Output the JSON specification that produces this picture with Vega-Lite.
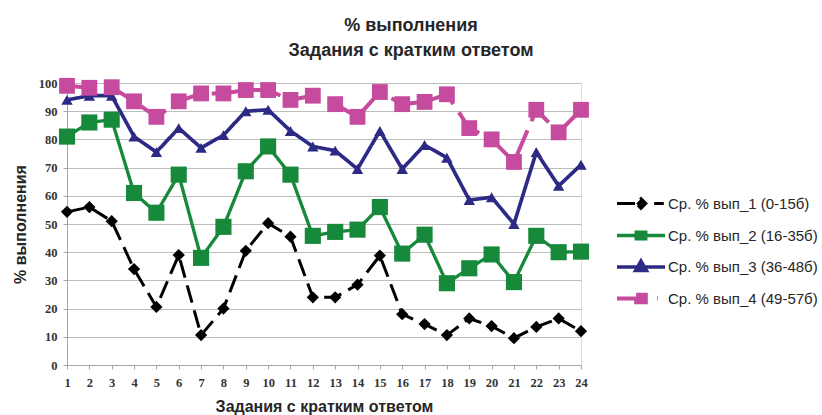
{
  "$schema": "https://vega.github.io/schema/vega-lite/v6.json",
  "width": 514,
  "height": 282,
  "autosize": {"type": "none"},
  "padding": {"left": 67, "top": 83, "right": 241, "bottom": 50},
  "background": "white",
  "title": {
    "text": ["% выполнения", "Задания с кратким ответом"],
    "anchor": "middle",
    "dx": 87,
    "offset": 17,
    "fontSize": 18,
    "font": "Liberation Sans",
    "fontWeight": "bold",
    "lineHeight": 25,
    "color": "#262626"
  },
  "datasets": {
    "wide": [
      {"x": 1, "a": 54.3, "b": 81, "c": 94, "d": 99},
      {"x": 2, "a": 56, "b": 86, "c": 95.5, "d": 98.3},
      {"x": 3, "a": 51, "b": 87, "c": 95.5, "d": 98.5},
      {"x": 4, "a": 34, "b": 61, "c": 81, "d": 93.5},
      {"x": 5, "a": 20.6, "b": 54, "c": 75.5, "d": 88},
      {"x": 6, "a": 39, "b": 67.5, "c": 84, "d": 93.5},
      {"x": 7, "a": 10.6, "b": 38, "c": 77, "d": 96.3},
      {"x": 8, "a": 20, "b": 49, "c": 81.5, "d": 96.3},
      {"x": 9, "a": 40.5, "b": 68.7, "c": 90, "d": 97.5},
      {"x": 10, "a": 50.3, "b": 77.5, "c": 90.5, "d": 97.5},
      {"x": 11, "a": 45.5, "b": 67.5, "c": 83, "d": 94},
      {"x": 12, "a": 24, "b": 45.8, "c": 77.5, "d": 95.5},
      {"x": 13, "a": 24, "b": 47.2, "c": 76, "d": 92.5},
      {"x": 14, "a": 28.5, "b": 48, "c": 69.5, "d": 88},
      {"x": 15, "a": 38.8, "b": 56, "c": 83, "d": 96.8},
      {"x": 16, "a": 18, "b": 39.5, "c": 69.5, "d": 92.5},
      {"x": 17, "a": 14.5, "b": 46.2, "c": 78, "d": 93.3},
      {"x": 18, "a": 10.6, "b": 29, "c": 73.5, "d": 96},
      {"x": 19, "a": 16.5, "b": 34.3, "c": 58.5, "d": 84},
      {"x": 20, "a": 13.8, "b": 39.2, "c": 59.5, "d": 80},
      {"x": 21, "a": 9.5, "b": 29.4, "c": 50, "d": 72},
      {"x": 22, "a": 13.5, "b": 45.8, "c": 75.5, "d": 90.5},
      {"x": 23, "a": 16.5, "b": 40, "c": 63.5, "d": 82.5},
      {"x": 24, "a": 12, "b": 40.2, "c": 71, "d": 90.5}
    ]
  },
  "data": {"name": "wide"},
  "transform": [
    {"fold": ["a", "b", "c", "d"], "as": ["k", "v"]},
    {"lookup": "k", "from": {"data": {"values": [
      {"k": "a", "s": "Ср. % вып_1 (0-15б)"},
      {"k": "b", "s": "Ср. % вып_2 (16-35б)"},
      {"k": "c", "s": "Ср. % вып_3 (36-48б)"},
      {"k": "d", "s": "Ср. % вып_4 (49-57б)"}
    ]}, "key": "k", "fields": ["s"]}}
  ],
  "encoding": {
    "x": {
      "field": "x", "type": "quantitative",
      "scale": {"domain": [1, 24], "nice": false, "zero": false},
      "axis": {
        "values": [1,2,3,4,5,6,7,8,9,10,11,12,13,14,15,16,17,18,19,20,21,22,23,24],
        "format": "d",
        "title": "Задания с кратким ответом",
        "titleFont": "Liberation Sans", "titleFontSize": 16, "titleFontWeight": "bold", "titleColor": "#262626",
        "titlePadding": 10,
        "labelFont": "Liberation Serif", "labelFontSize": 12.5, "labelFontWeight": "bold", "labelColor": "#333333",
        "labelFlush": false, "labelPadding": 7,
        "domainColor": "#a6a6a6", "tickColor": "#a6a6a6", "tickSize": 4,
        "grid": false
      }
    },
    "y": {
      "field": "v", "type": "quantitative",
      "scale": {"domain": [0, 100], "nice": false},
      "axis": {
        "values": [0,10,20,30,40,50,60,70,80,90,100],
        "title": "% выполнения",
        "titleFont": "Liberation Sans", "titleFontSize": 16, "titleFontWeight": "bold", "titleColor": "#262626",
        "titlePadding": 10,
        "labelFont": "Liberation Serif", "labelFontSize": 12.5, "labelFontWeight": "bold", "labelColor": "#333333",
        "labelPadding": 6,
        "domainColor": "#a6a6a6", "tickColor": "#a6a6a6", "tickSize": 4,
        "grid": true, "gridColor": "#bdbdbd", "gridWidth": 1
      }
    },
    "color": {
      "field": "s", "type": "nominal",
      "scale": {
        "domain": ["Ср. % вып_1 (0-15б)", "Ср. % вып_2 (16-35б)", "Ср. % вып_3 (36-48б)", "Ср. % вып_4 (49-57б)"],
        "range": ["#000000", "#17893a", "#2d2a85", "#c64a9e"]
      },
      "legend": {
        "title": null,
        "orient": "none",
        "legendX": 557,
        "legendY": 104,
        "symbolSize": 900,
        "labelFont": "Liberation Sans",
        "labelFontSize": 15,
        "labelColor": "#262626",
        "labelOffset": 10,
        "labelLimit": 300,
        "rowPadding": 3.5,
        "encode": {
          "symbols": {
            "update": {
              "shape": {"signal": "datum.value == 'Ср. % вып_1 (0-15б)' ? 'M-1.6,0L-0.16,0M0.88,0L1.52,0M0,-0.32L0.32,0L0,0.32L-0.32,0Z' : datum.value == 'Ср. % вып_2 (16-35б)' ? 'M-1.6,0L1.6,0M-0.32,-0.224L0.32,-0.224L0.32,0.224L-0.32,0.224Z' : datum.value == 'Ср. % вып_3 (36-48б)' ? 'M-1.6,0L1.6,0M0,-0.384L0.352,0.224L-0.352,0.224Z' : 'M-1.6,0L1.12,0M-0.32,-0.256L0.32,-0.256L0.32,0.256L-0.32,0.256Z'"},
              "fill": {"signal": "scale('color', datum.value)"},
              "stroke": {"signal": "scale('color', datum.value)"},
              "strokeWidth": {"signal": "datum.value == 'Ср. % вып_3 (36-48б)' ? 2.5 : datum.value == 'Ср. % вып_1 (0-15б)' ? 3 : 4"},
              "strokeDash": {"value": []},
              "opacity": {"value": 1},
              "size": {"value": 900}
            }
          }
        }
      }
    }
  },
  "layer": [
    {
      "mark": {"type": "line", "strokeCap": "butt"},
      "encoding": {
        "strokeWidth": {
          "field": "s", "type": "nominal", "legend": null,
          "scale": {"domain": ["Ср. % вып_1 (0-15б)", "Ср. % вып_2 (16-35б)", "Ср. % вып_3 (36-48б)", "Ср. % вып_4 (49-57б)"], "range": [3, 4, 2.5, 4]}
        },
        "strokeDash": {
          "field": "s", "type": "nominal", "legend": null,
          "scale": {"domain": ["Ср. % вып_1 (0-15б)", "Ср. % вып_2 (16-35б)", "Ср. % вып_3 (36-48б)", "Ср. % вып_4 (49-57б)"], "range": [[18, 8], [1, 0], [1, 0], [30, 10]]}
        }
      }
    },
    {
      "transform": [{"filter": "datum.k == 'a'"}],
      "mark": {"type": "point", "filled": true, "opacity": 1, "shape": "diamond", "size": 150}
    },
    {
      "transform": [{"filter": "datum.k == 'b'"}],
      "mark": {"type": "point", "filled": true, "opacity": 1, "shape": "square", "size": 260}
    },
    {
      "transform": [{"filter": "datum.k == 'c'"}],
      "mark": {"type": "point", "filled": true, "opacity": 1, "shape": "triangle-up", "size": 130}
    },
    {
      "transform": [{"filter": "datum.k == 'd'"}],
      "mark": {"type": "point", "filled": true, "opacity": 1, "shape": "square", "size": 250}
    }
  ]
}
